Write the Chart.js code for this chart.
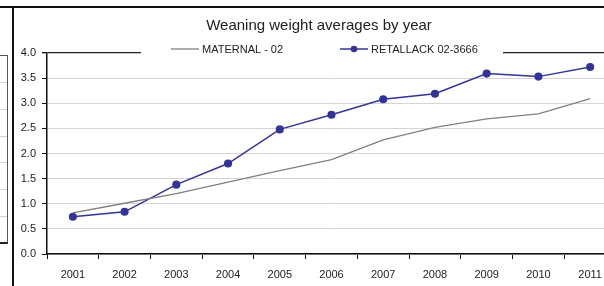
<!DOCTYPE html>
<html>
<head>
<meta charset="utf-8">
<script src="https://cdn.jsdelivr.net/npm/chart.js@4/dist/chart.umd.min.js"></script>
<style>
  html, body { margin: 0; padding: 0; background: #fff; }
  body { width: 604px; height: 286px; overflow: hidden; position: relative; }
  #wrap { position: absolute; left: 0; top: 0; width: 640px; height: 286px; }
  .rule { position: absolute; background: #111; }
  .gl { position: absolute; left: 0; width: 7px; height: 1px; background: #d0d0d0; }
</style>
</head>
<body>
<!-- frame bits from the surrounding sheet -->
<div class="rule" style="left:0;top:6px;width:604px;height:2px"></div>
<div class="rule" style="left:12px;top:6px;width:2px;height:280px"></div>
<div style="position:absolute;left:-2px;top:55px;width:8px;height:186px;border:1px solid #555;border-bottom:2px solid #222"></div>
<div class="gl" style="top:82px"></div>
<div class="gl" style="top:109px"></div>
<div class="gl" style="top:136px"></div>
<div class="gl" style="top:162px"></div>
<div class="gl" style="top:189px"></div>
<div class="gl" style="top:216px"></div>

<div id="wrap"><canvas id="chart"></canvas></div>

<script>
// ---- data ----
const YEARS      = ['2001','2002','2003','2004','2005','2006','2007','2008','2009','2010','2011'];
const MATERNAL   = [0.82, 1.01, 1.20, 1.43, 1.66, 1.88, 2.27, 2.52, 2.69, 2.79, 3.09];
const RETALLACK  = [0.74, 0.84, 1.38, 1.80, 2.48, 2.77, 3.08, 3.19, 3.59, 3.53, 3.72];
const Y_TICKS    = [0, 4, 0.5];   // min, max, step

const TITLE   = 'Weaning weight averages by year';
const FONT    = '"Liberation Sans", Arial, sans-serif';
const GREY    = '#808080';
const NAVY    = '#333399';

Chart.defaults.font.family = FONT;
Chart.defaults.font.size   = 11;
Chart.defaults.color       = '#333';

// title + legend drawn over the plot's top border, Excel style
const headerPlugin = {
  id: 'header',
  afterDraw(chart) {
    const { ctx } = chart;
    ctx.save();
    ctx.fillStyle = '#fff';
    ctx.fillRect(141, 40, 362, 17);

    ctx.fillStyle    = '#222';
    ctx.font         = `15px ${FONT}`;
    ctx.textAlign    = 'center';
    ctx.textBaseline = 'middle';
    ctx.fillText(TITLE, 319, 26);

    ctx.font      = `11px ${FONT}`;
    ctx.textAlign = 'left';
    const items = [
      { ds: chart.data.datasets[0], x: 171 },
      { ds: chart.data.datasets[1], x: 340 },
    ];
    items.forEach(({ ds, x }) => {
      const y = 49;
      ctx.strokeStyle = ds.borderColor;
      ctx.lineWidth   = ds.borderWidth;
      ctx.beginPath();
      ctx.moveTo(x, y);
      ctx.lineTo(x + 28, y);
      ctx.stroke();
      if (ds.pointRadius > 0) {
        ctx.fillStyle = ds.pointBackgroundColor;
        ctx.beginPath();
        ctx.arc(x + 14, y, ds.pointRadius, 0, Math.PI * 2);
        ctx.fill();
      }
      ctx.fillStyle = '#222';
      ctx.fillText(ds.label, x + 31, y + 0.5);
    });
    ctx.restore();
  },
};

new Chart(document.getElementById('chart'), {
  type: 'line',
  data: {
    labels: YEARS,
    datasets: [
      {
        label:       'MATERNAL - 02',
        data:        MATERNAL,
        borderColor: GREY,
        borderWidth: 1.3,
        pointRadius: 0,
        tension:     0,
      },
      {
        label:                'RETALLACK 02-3666',
        data:                 RETALLACK,
        borderColor:          NAVY,
        borderWidth:          1.5,
        pointRadius:          3.3,
        pointBackgroundColor: NAVY,
        pointBorderColor:     NAVY,
        tension:              0,
      },
    ],
  },
  options: {
    responsive:          true,
    maintainAspectRatio: false,
    animation:           false,
    layout: { padding: { top: 53, right: 24, left: 0, bottom: 0 } },
    plugins: {
      legend:  { display: false },
      title:   { display: false },
      tooltip: { enabled: false },
    },
    scales: {
      x: {
        offset: true,
        grid: {
          offset:          true,
          drawOnChartArea: false,
          drawTicks:       true,
          tickLength:      5,
          tickColor:       '#111',
        },
        border: { color: '#111', width: 1.5 },
        ticks:  { color: '#222', padding: 9, maxRotation: 0, autoSkip: false },
        afterFit(scale) { scale.height = 32; },
      },
      y: {
        min: Y_TICKS[0],
        max: Y_TICKS[1],
        grid: {
          color:      ctx => (ctx.tick && ctx.tick.value === Y_TICKS[1]) ? '#222' : '#d4d4d4',
          lineWidth:  ctx => (ctx.tick && ctx.tick.value === Y_TICKS[1]) ? 1.3 : 1,
          tickLength: 5,
          tickColor:  '#111',
        },
        border: { color: '#111', width: 1.5 },
        ticks: {
          stepSize: Y_TICKS[2],
          padding:  6,
          color:    '#222',
          callback: v => v.toFixed(1),
        },
        afterFit(scale) { scale.width = 47; },
      },
    },
  },
  plugins: [headerPlugin],
});
</script>
</body>
</html>
